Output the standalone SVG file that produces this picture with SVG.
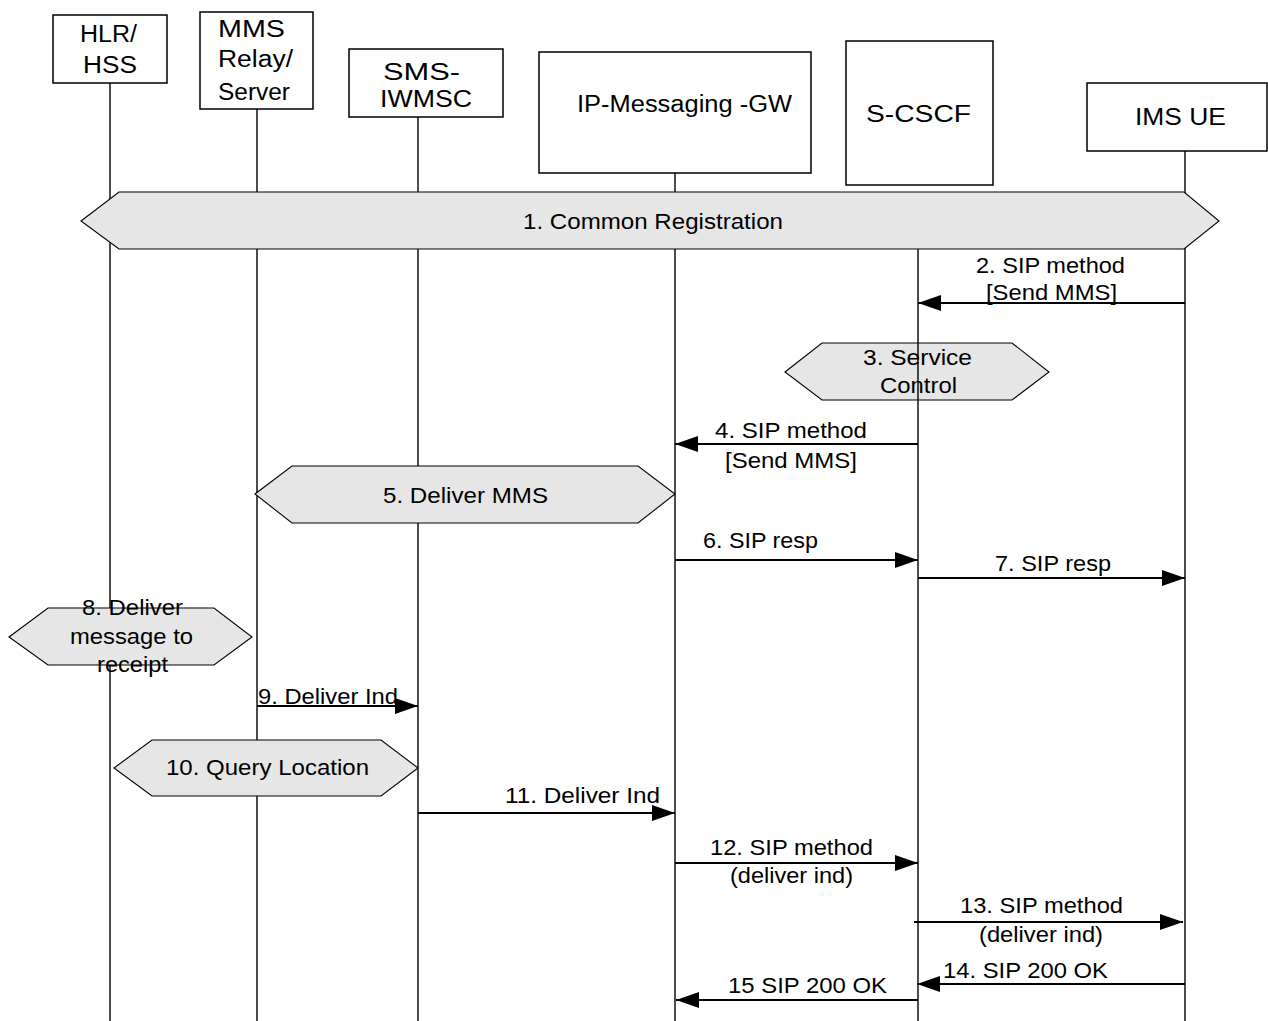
<svg xmlns="http://www.w3.org/2000/svg" width="1268" height="1021" viewBox="0 0 1268 1021">
  <style>
    text { font-family: "Liberation Sans", Arial, sans-serif; font-size: 22.5px; fill: #000; }
    .name { font-size: 23.5px; }
    .box { fill: #fff; stroke: #000; stroke-width: 1.5; }
    .life { stroke: #000; stroke-width: 1.4; fill: none; }
    .step { fill: #e6e6e6; stroke: #000; stroke-width: 1.1; }
    .msg { stroke: #000; stroke-width: 2; fill: none; marker-end: url(#head); }
  </style>
  <defs>
    <marker id="head" markerUnits="userSpaceOnUse" markerWidth="24" markerHeight="16" refX="23" refY="8" orient="auto">
      <path d="M0,0 L23,8 L0,16 z" fill="#000"/>
    </marker>
  </defs>
  <rect width="1268" height="1021" fill="#fff"/>

  <!-- step 3 sits under the S-CSCF lifeline -->
  <g id="step3">
    <polygon class="step" points="785,372 822,343 1012,343 1049,372 1012,400 822,400"/>
    <text x="863" y="365" textLength="109" lengthAdjust="spacingAndGlyphs">3. Service</text>
    <text x="880" y="393" textLength="77" lengthAdjust="spacingAndGlyphs">Control</text>
  </g>

  <!-- participants with their lifelines -->
  <g id="hlr">
    <line class="life" x1="110" y1="83" x2="110" y2="1021"/>
    <rect class="box" x="53" y="15" width="114" height="68"/>
    <text class="name" x="80" y="42" textLength="57" lengthAdjust="spacingAndGlyphs">HLR/</text>
    <text class="name" x="83" y="73" textLength="54" lengthAdjust="spacingAndGlyphs">HSS</text>
  </g>
  <g id="mms-relay">
    <line class="life" x1="257" y1="109" x2="257" y2="1021"/>
    <rect class="box" x="200" y="12" width="113" height="97"/>
    <text class="name" x="218" y="37" textLength="67" lengthAdjust="spacingAndGlyphs">MMS</text>
    <text class="name" x="218" y="67" textLength="75" lengthAdjust="spacingAndGlyphs">Relay/</text>
    <text class="name" x="218" y="100" textLength="72" lengthAdjust="spacingAndGlyphs">Server</text>
  </g>
  <g id="sms-iwmsc">
    <line class="life" x1="418" y1="117" x2="418" y2="1021"/>
    <rect class="box" x="349" y="49" width="154" height="68"/>
    <text class="name" x="383" y="80" textLength="77" lengthAdjust="spacingAndGlyphs">SMS-</text>
    <text class="name" x="380" y="107" textLength="92" lengthAdjust="spacingAndGlyphs">IWMSC</text>
  </g>
  <g id="ip-msg-gw">
    <line class="life" x1="675" y1="173" x2="675" y2="1021"/>
    <rect class="box" x="539" y="52" width="272" height="121"/>
    <text class="name" x="577" y="112" textLength="215" lengthAdjust="spacingAndGlyphs">IP-Messaging -GW</text>
  </g>
  <g id="s-cscf">
    <line class="life" x1="918" y1="249" x2="918" y2="1021"/>
    <rect class="box" x="846" y="41" width="147" height="144"/>
    <text class="name" x="866" y="122" textLength="105" lengthAdjust="spacingAndGlyphs">S-CSCF</text>
  </g>
  <g id="ims-ue">
    <line class="life" x1="1185" y1="151" x2="1185" y2="1021"/>
    <rect class="box" x="1087" y="83" width="180" height="68"/>
    <text class="name" x="1135" y="125" textLength="91" lengthAdjust="spacingAndGlyphs">IMS UE</text>
  </g>

  <!-- procedure steps spanning several lifelines -->
  <g id="step1">
    <polygon class="step" points="81,221 119,192 1184,192 1219,221 1184,249 119,249"/>
    <text x="523" y="229" textLength="260" lengthAdjust="spacingAndGlyphs">1. Common Registration</text>
  </g>
  <g id="step5">
    <polygon class="step" points="255,494 292,466 638,466 675,494 638,523 292,523"/>
    <text x="383" y="503" textLength="165" lengthAdjust="spacingAndGlyphs">5. Deliver MMS</text>
  </g>
  <g id="step8">
    <polygon class="step" points="9,637 48,608 214,608 252,637 214,665 48,665"/>
    <text x="82" y="615" textLength="101" lengthAdjust="spacingAndGlyphs">8. Deliver</text>
    <text x="70" y="644" textLength="123" lengthAdjust="spacingAndGlyphs">message to</text>
    <text x="97" y="672" textLength="71" lengthAdjust="spacingAndGlyphs">receipt</text>
  </g>
  <g id="step10">
    <polygon class="step" points="114,768 152,740 381,740 418,768 381,796 152,796"/>
    <text x="166" y="775" textLength="203" lengthAdjust="spacingAndGlyphs">10. Query Location</text>
  </g>

  <!-- messages -->
  <g id="connectors">
    <line class="msg" x1="1185" y1="303" x2="918" y2="303"/>
    <line class="msg" x1="918" y1="444" x2="675" y2="444"/>
    <line class="msg" x1="675" y1="560" x2="918" y2="560"/>
    <line class="msg" x1="918" y1="578" x2="1185" y2="578"/>
    <line class="msg" x1="257" y1="706" x2="418" y2="706"/>
    <line class="msg" x1="418" y1="813" x2="675" y2="813"/>
    <line class="msg" x1="675" y1="863" x2="918" y2="863"/>
    <line class="msg" x1="914" y1="922" x2="1183" y2="922"/>
    <line class="msg" x1="1185" y1="984" x2="917" y2="984"/>
    <line class="msg" x1="918" y1="1000" x2="676" y2="1000"/>
  </g>

  <g id="message-labels">
    <text x="976" y="273" textLength="149" lengthAdjust="spacingAndGlyphs">2. SIP method</text>
    <text x="986" y="300" textLength="131" lengthAdjust="spacingAndGlyphs">[Send MMS]</text>
    <text x="715" y="438" textLength="152" lengthAdjust="spacingAndGlyphs">4. SIP method</text>
    <text x="725" y="468" textLength="132" lengthAdjust="spacingAndGlyphs">[Send MMS]</text>
    <text x="703" y="548" textLength="115" lengthAdjust="spacingAndGlyphs">6. SIP resp</text>
    <text x="995" y="571" textLength="116" lengthAdjust="spacingAndGlyphs">7. SIP resp</text>
    <text x="258" y="704" textLength="140" lengthAdjust="spacingAndGlyphs">9. Deliver Ind</text>
    <text x="505" y="803" textLength="155" lengthAdjust="spacingAndGlyphs">11. Deliver Ind</text>
    <text x="710" y="855" textLength="163" lengthAdjust="spacingAndGlyphs">12. SIP method</text>
    <text x="730" y="883" textLength="123" lengthAdjust="spacingAndGlyphs">(deliver ind)</text>
    <text x="960" y="913" textLength="163" lengthAdjust="spacingAndGlyphs">13. SIP method</text>
    <text x="979" y="942" textLength="124" lengthAdjust="spacingAndGlyphs">(deliver ind)</text>
    <text x="943" y="978" textLength="165" lengthAdjust="spacingAndGlyphs">14. SIP 200 OK</text>
    <text x="728" y="993" textLength="159" lengthAdjust="spacingAndGlyphs">15 SIP 200 OK</text>
  </g>
</svg>
